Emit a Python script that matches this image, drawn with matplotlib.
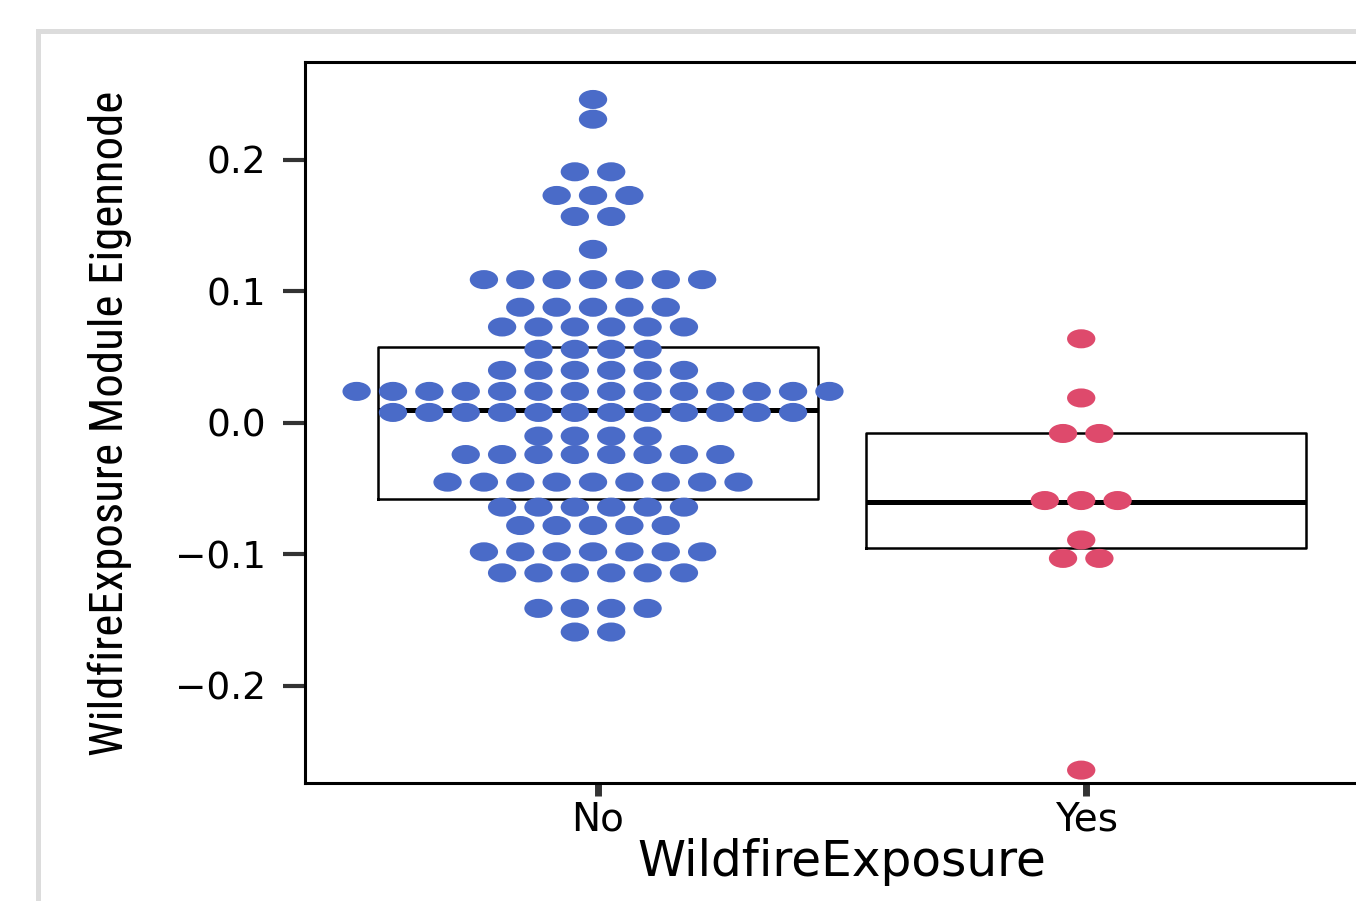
import numpy as np
import matplotlib.pyplot as plt
from matplotlib import font_manager
from matplotlib.patches import Ellipse, Rectangle

# groups on the x axis
categories = ["No", "Yes"]
dot_colors = ["#4A6BC8", "#DE4A6C"]

# dotplot bins: bin centre (eigennode value) and number of samples in the bin
no_levels = [0.246, 0.231, 0.191, 0.173, 0.157, 0.132, 0.109, 0.088, 0.073, 0.056, 0.040,
             0.024, 0.008, -0.010, -0.024, -0.045, -0.064, -0.078, -0.098, -0.114, -0.141, -0.159]
no_counts = [1, 1, 2, 3, 2, 1, 7, 5, 6, 4, 6,
             14, 12, 4, 8, 9, 6, 5, 7, 6, 4, 2]
yes_levels = [0.064, 0.019, -0.008, -0.059, -0.089, -0.103, -0.264]
yes_counts = [1, 1, 2, 3, 1, 2, 1]

# box statistics (no whiskers drawn in the original)
box_q1 = [-0.058, -0.095]
box_median = [0.010, -0.060]
box_q3 = [0.058, -0.008]

W, H, DPI = 1356, 901, 100
fig = plt.figure(figsize=(W / DPI, H / DPI), dpi=DPI)

# light grey panel frame from the surrounding page
fig.add_artist(Rectangle((37.5 / W, -0.2), 1.5, 1 - 30.5 / H + 0.2,
                         transform=fig.transFigure, fill=False,
                         edgecolor="#dcdcdc", lw=3.6))

ax = fig.add_axes([305 / W, 1 - 783 / H, (1379 - 305) / W, (783 - 62) / H])

stats = []
for q1, med, q3 in zip(box_q1, box_median, box_q3):
    stats.append(dict(med=med, q1=q1, q3=q3, whislo=q1, whishi=q3, fliers=[]))
ax.bxp(stats, positions=[1, 2], widths=0.9, showcaps=False, showfliers=False,
       boxprops=dict(color="black", lw=1.8),
       medianprops=dict(color="black", lw=3.6, solid_capstyle="butt"),
       whiskerprops=dict(lw=0), zorder=2)

# stacked dots, centred on each group
dot_w, dot_h, step, shift = 0.058, 0.0145, 0.0745, -0.01
groups = [(no_levels, no_counts), (yes_levels, yes_counts)]
for i, (levels, counts) in enumerate(groups):
    for lev, n in zip(levels, counts):
        xs = i + 1 + shift + (np.arange(n) - (n - 1) / 2) * step
        for x in xs:
            ax.add_patch(Ellipse((x, lev), dot_w, dot_h, facecolor=dot_colors[i],
                                 edgecolor="none", zorder=3))

ax.set_xlim(0.4, 2.6)
ax.set_ylim(-0.2738, 0.2745)
ax.set_xticks([1, 2])
ax.set_xticklabels(categories)
ax.set_yticks([-0.2, -0.1, 0.0, 0.1, 0.2])
ax.set_yticklabels(["\u22120.2", "\u22120.1", "0.0", "0.1", "0.2"])

for s in ax.spines.values():
    s.set_linewidth(2.2)
    s.set_color("black")
ax.tick_params(axis="y", length=16, width=3, color="#333333", pad=12,
               labelsize=27, labelcolor="black")
ax.tick_params(axis="x", length=9.5, width=5, color="#333333", pad=3,
               labelsize=28, labelcolor="black")
for lab in ax.get_xticklabels() + ax.get_yticklabels():
    lab.set_family(["DejaVu Sans"])

ax.set_xlabel("WildfireExposure", fontsize=35, family=["DejaVu Sans"], labelpad=0)

# narrow font for the y title if one is installed
names = {f.name for f in font_manager.fontManager.ttflist}
ylab_font = ["DejaVu Sans"]
for cand in ["Liberation Sans Narrow", "DejaVu Sans Condensed", "Roboto Condensed"]:
    if cand in names:
        ylab_font = [cand]
        break
ylab = ax.set_ylabel("WildfireExposure Module Eigennode", fontsize=26,
                     family=ylab_font)
ax.yaxis.set_label_coords(-(305 - 110) / (1379 - 305), 0.5 - 1 / 721)
ylab.set_verticalalignment("center")

# scale the y title so it spans the same height as in the original (~665 px)
r = fig.canvas.get_renderer()
h = ylab.get_window_extent(r).height
ylab.set_fontsize(26 * 665 / h)

fig.savefig("out.png", dpi=DPI)
plt.close(fig)
